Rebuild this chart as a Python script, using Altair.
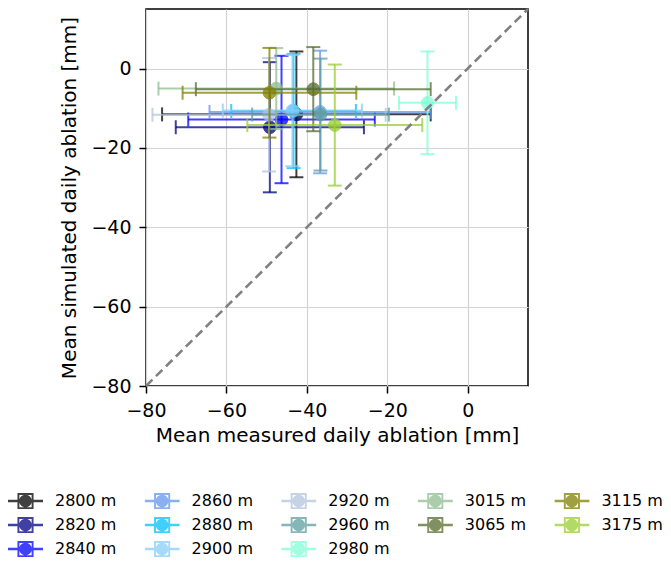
import altair as alt
import pandas as pd

# ---- data ----
labels = ["2800 m", "2820 m", "2840 m", "2860 m", "2880 m", "2900 m", "2920 m",
          "2960 m", "2980 m", "3015 m", "3065 m", "3115 m", "3175 m"]
colors = ["#000000", "#000080", "#0000ff", "#6495ed", "#00bfff", "#87cefa", "#b0c4de",
          "#5f9ea0", "#7fffd4", "#8fbc8f", "#556b2f", "#808000", "#9acd32"]
x_mean = [-42.6, -49.2, -46.3, -36.7, -43.3, -43.6, -49.4, -36.6, -10.0, -47.6, -38.4, -49.3, -33.05]
x_err = [33.4, 23.4, 23.2, 27.5, 15.5, 17.3, 29.0, 17.0, 7.1, 29.3, 29.2, 21.6, 21.75]
y_mean = [-11.55, -14.8, -12.85, -10.95, -10.7, -10.6, -11.65, -11.6, -8.65, -5.05, -5.2, -6.1, -14.25]
y_err = [15.85, 16.4, 16.05, 15.45, 14.4, 14.0, 14.3, 14.1, 12.95, 10.2, 10.6, 11.3, 15.25]
diag_x = [-80, 15]
diag_y = [-80, 15]

ALPHA = 0.75
FONT = "DejaVu Sans"

# legend: 5 columns filled column-wise (3,3,3,2,2 entries); Vega fills row-wise,
# so list the entries in row-major reading order
n_cols = 5
n = len(labels)
base, extra = divmod(n, n_cols)
col_sizes = [base + (1 if c < extra else 0) for c in range(n_cols)]
starts = [sum(col_sizes[:c]) for c in range(n_cols)]
order = []
for r in range(max(col_sizes)):
    for c in range(n_cols):
        if r < col_sizes[c]:
            order.append(starts[c] + r)
legend_domain = [labels[i] for i in order]
legend_range = [colors[i] for i in order]

xscale = alt.Scale(domain=[-80, 15], nice=False, zero=False)
yscale = alt.Scale(domain=[-80, 15], nice=False, zero=False)
ticks = [-80, -60, -40, -20, 0]
xaxis = alt.Axis(title="Mean measured daily ablation [mm]", values=ticks, labelFlush=False,
                 titlePadding=5)
yaxis = alt.Axis(title="Mean simulated daily ablation [mm]", values=ticks, labelFlush=False,
                 titlePadding=11)

sym_path = ("M-1,-0.075H1V0.075H-1Z "
            "M-0.46,-0.46H0.46V0.46H-0.46Z "
            "M-0.35,-0.35V0.35H0.35V-0.35Z "
            "M0.36,0A0.36,0.36,0,1,1,-0.36,0A0.36,0.36,0,1,1,0.36,0Z")

legend = alt.Legend(
    orient="none", legendX=-138, legendY=480, columns=n_cols, direction="horizontal",
    title=None,
    symbolType=sym_path, symbolSize=1225, symbolStrokeWidth=0, symbolOpacity=ALPHA,
    labelFont=FONT, labelFontSize=16, labelColor="black", labelOffset=12,
    columnPadding=27.6, rowPadding=0, clipHeight=24, padding=0,
)
color_enc = alt.Color("label:N", scale=alt.Scale(domain=legend_domain, range=legend_range),
                      legend=legend)

X = alt.X("x:Q", scale=xscale, axis=xaxis)
Y = alt.Y("y:Q", scale=yscale, axis=yaxis)

layers = []
for i, lab in enumerate(labels):
    xm, ym, xe, ye = x_mean[i], y_mean[i], x_err[i], y_err[i]
    col = colors[i]
    seg = pd.DataFrame({
        "label": [lab, lab],
        "x": [xm - xe, xm], "x2": [xm + xe, xm],
        "y": [ym, ym - ye], "y2": [ym, ym + ye],
    })
    xcap = pd.DataFrame({"label": [lab, lab], "x": [xm - xe, xm + xe], "y": [ym, ym]})
    ycap = pd.DataFrame({"label": [lab, lab], "x": [xm, xm], "y": [ym - ye, ym + ye]})
    pt = pd.DataFrame({"label": [lab], "x": [xm], "y": [ym]})

    layers.append(alt.Chart(seg).mark_rule(strokeWidth=2, opacity=ALPHA, color=col).encode(
        x=X, x2="x2:Q", y=Y, y2="y2:Q"))
    layers.append(alt.Chart(xcap).mark_tick(orient="vertical", size=14, thickness=2,
                                            opacity=ALPHA, color=col).encode(x=X, y=Y))
    layers.append(alt.Chart(ycap).mark_tick(orient="horizontal", size=14, thickness=2,
                                            opacity=ALPHA, color=col).encode(x=X, y=Y))
    layers.append(alt.Chart(pt).mark_circle(size=160, opacity=ALPHA, stroke=col,
                                            strokeWidth=1).encode(x=X, y=Y, color=color_enc))

diag = pd.DataFrame({"x": diag_x, "y": diag_y})
layers.append(alt.Chart(diag).mark_line(color="#808080", strokeWidth=2.6,
                                        strokeDash=[9, 5]).encode(x=X, y=Y))

chart = alt.layer(*layers).properties(
    width=382, height=377,
    autosize=alt.AutoSizeParams(type="none"),
    padding={"left": 138, "top": 1, "right": 135, "bottom": 171},
).configure_view(
    stroke="black", strokeWidth=1.5
).configure_axis(
    domain=False, grid=True, gridColor="#d3d3d3", gridWidth=1.2,
    ticks=True, tickColor="black", tickWidth=1.5, tickSize=7,
    labelFont=FONT, labelFontSize=19, labelColor="black", labelPadding=8,
    titleFont=FONT, titleFontSize=20, titleColor="black", titleFontWeight="normal",
)

chart.save("out.html", embed_options={"renderer": "svg", "actions": False})
